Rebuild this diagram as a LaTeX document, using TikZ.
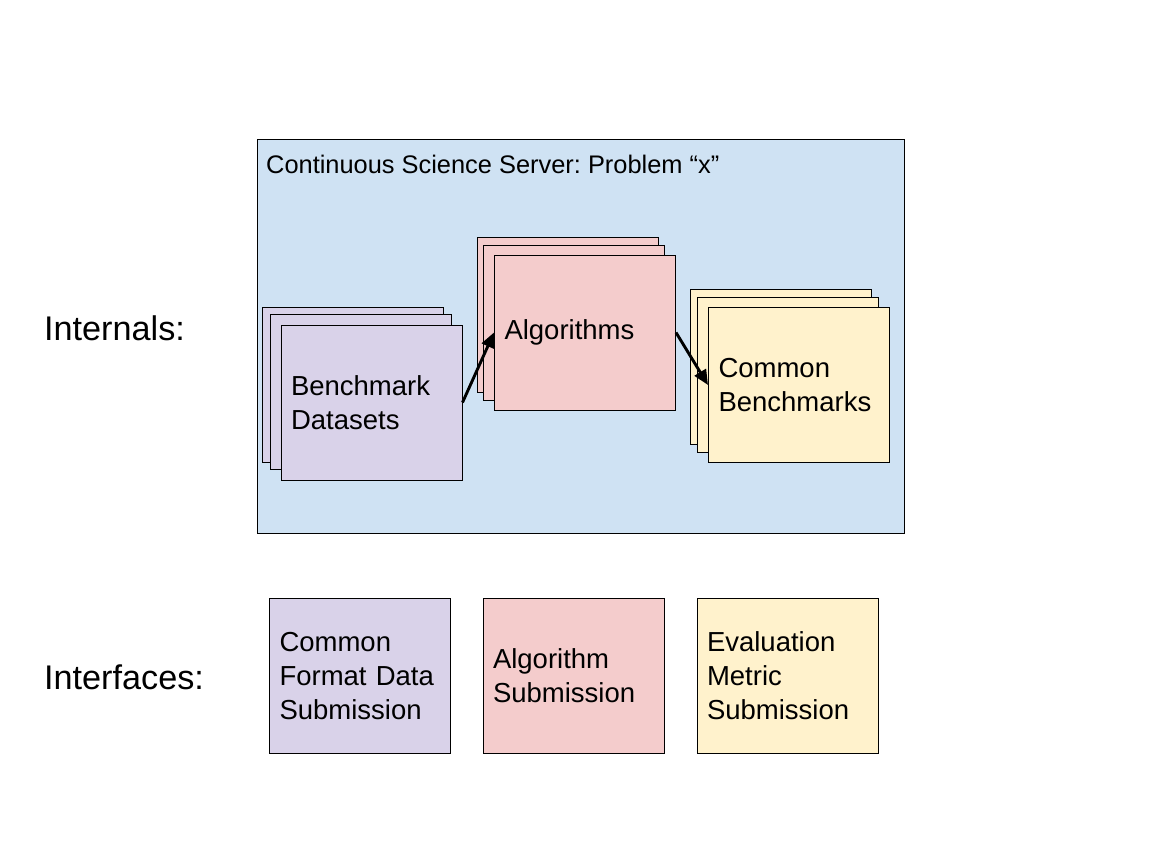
\documentclass[tikz,border=0pt]{standalone}
\usepackage{fontspec}
\setmainfont{Liberation Sans}
\usetikzlibrary{arrows.meta}
\definecolor{serverblue}{HTML}{CFE2F3}
\definecolor{datapurple}{HTML}{D9D2E9}
\definecolor{algpink}{HTML}{F4CCCC}
\definecolor{benchyellow}{HTML}{FFF2CC}
\frenchspacing
\tikzset{
  card/.style={draw, line width=1pt, minimum width=181pt, minimum height=155pt,
    inner xsep=10pt, inner ysep=0pt, text width=161pt, align=left,
    font=\fontsize{27.5}{34}\selectfont},
  flow/.style={-{Triangle[length=15pt,width=13pt]}, line width=2.9pt},
  rowlabel/.style={anchor=west, inner sep=0pt, font=\fontsize{34.2}{40}\selectfont},
}
\begin{document}
\begin{tikzpicture}[x=1pt,y=-1pt]
\useasboundingbox[fill=white] (0,0) rectangle (1152,864);
% server box
\node[draw, fill=serverblue, line width=1pt, minimum width=647pt, minimum height=393pt] (server) at (580.5,336.5) {};
\node[anchor=west, inner sep=0pt, font=\fontsize{25.4}{30}\selectfont] (title) at (266,164) {Continuous Science Server: Problem “x”};
% stacks
\node[card, fill=datapurple] (bdback) at (352.5,384.5) {};
\node[card, fill=datapurple] (bdmid) at (361,392) {};
\node[card, fill=datapurple] (bd) at (371.5,402.5) {Benchmark\\Datasets};
\node[card, fill=algpink] (algback) at (567.5,315) {};
\node[card, fill=algpink] (algmid) at (573.5,322.5) {};
\node[card, fill=algpink] (alg) at (585,332.5) {\strut Algorithms};
\node[card, fill=benchyellow] (cbback) at (780.5,367) {};
\node[card, fill=benchyellow] (cbmid) at (787.5,374.5) {};
\node[card, fill=benchyellow] (cb) at (799,385) {Common\\Benchmarks};
\draw[flow] (bd.east) -- (alg.west);
\draw[flow] (alg.east) -- (cb.west);
% interfaces
\node[card, fill=datapurple] (dataif) at (360,676) {Common\\Format Data\\Submission};
\node[card, fill=algpink] (algif) at (573.5,676) {Algorithm\\Submission};
\node[card, fill=benchyellow] (evalif) at (787.5,676) {Evaluation\\Metric\\Submission};
% row labels
\node[rowlabel] (internals) at (44,328) {Internals:};
\node[rowlabel] (interfaces) at (44,677) {Interfaces:};
\end{tikzpicture}
\end{document}
